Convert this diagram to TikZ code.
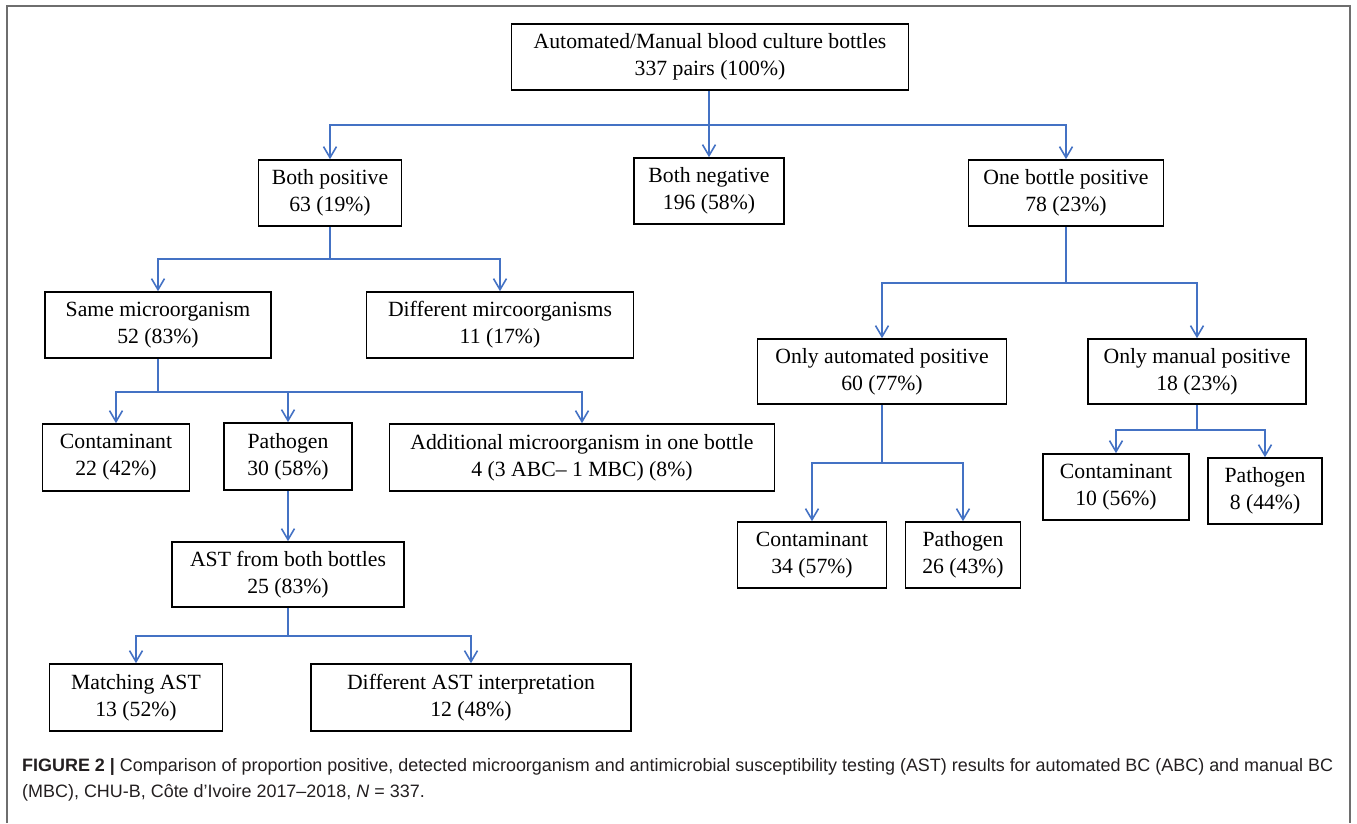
\documentclass[tikz,border=0pt]{standalone}
\usepackage{fontspec}
\setmainfont{Liberation Serif}
\newfontfamily\capfont{Liberation Sans}
\usetikzlibrary{arrows.meta}
\definecolor{linkblue}{RGB}{68,114,196}
\definecolor{framegray}{RGB}{110,110,110}
\definecolor{captext}{RGB}{35,31,32}
\begin{document}
\begin{tikzpicture}[x=1pt,y=-1pt,
  box/.style={draw=black, line width=1.6pt, inner sep=0pt, align=center,
    font=\fontsize{21.7}{27}\selectfont, minimum height=66pt},
  link/.style={draw=linkblue, line width=1.6pt},
  arr/.style={link, -{Straight Barb[length=11pt,width=13pt]}},
]
\useasboundingbox (0,0) rectangle (1357,823);
\draw[framegray, line width=2pt] (7,823) -- (7,6) -- (1350,6) -- (1350,823);

% nodes
\node[box, minimum width=397pt] (top) at (710,57) {Automated/Manual blood culture bottles\\337 pairs (100\%)};
\node[box, minimum width=143pt] (bpos) at (330,193) {Both positive\\63 (19\%)};
\node[box, minimum width=150pt] (bneg) at (709,191) {Both negative\\196 (58\%)};
\node[box, minimum width=195pt] (onepos) at (1066,193) {One bottle positive\\78 (23\%)};

\node[box, minimum width=226pt] (same) at (158,325) {Same microorganism\\52 (83\%)};
\node[box, minimum width=267pt] (diff) at (500,325) {Different mircoorganisms\\11 (17\%)};

\node[box, minimum width=147pt, minimum height=67pt] (cont22) at (116,457.5) {Contaminant\\22 (42\%)};
\node[box, minimum width=128pt, minimum height=67pt] (path30) at (288,456.5) {Pathogen\\30 (58\%)};
\node[box, minimum width=385pt, minimum height=67pt] (addl) at (582,457.5) {Additional microorganism in one bottle\\4 (3 ABC– 1 MBC) (8\%)};

\node[box, minimum width=232pt, minimum height=65pt] (ast) at (288,574.5) {AST from both bottles\\25 (83\%)};
\node[box, minimum width=173pt, minimum height=67pt] (match) at (136,697.5) {Matching AST\\13 (52\%)};
\node[box, minimum width=320pt, minimum height=67pt] (diffast) at (471,697.5) {Different AST interpretation\\12 (48\%)};

\node[box, minimum width=249pt, minimum height=65pt] (onlyauto) at (882,371.5) {Only automated positive\\60 (77\%)};
\node[box, minimum width=218pt, minimum height=65pt] (onlyman) at (1197,371.5) {Only manual positive\\18 (23\%)};

\node[box, minimum width=149pt] (cont34) at (812,555) {Contaminant\\34 (57\%)};
\node[box, minimum width=115pt] (path26) at (963,555) {Pathogen\\26 (43\%)};
\node[box, minimum width=146pt] (cont10) at (1116,487) {Contaminant\\10 (56\%)};
\node[box, minimum width=114pt] (path8) at (1265,491) {Pathogen\\8 (44\%)};

% junctions
\coordinate (j0) at (709,125);
\coordinate (j1) at (330,259);
\coordinate (j2) at (158,392);
\coordinate (j3) at (288,636);
\coordinate (j4) at (1066,283);
\coordinate (j5) at (882,463);
\coordinate (j6) at (1197,430);

% connectors
\draw[link] (j0 |- top.south) -- (j0);
\draw[arr] (j0) -| (bpos.north);
\draw[arr] (j0) -- (bneg.north);
\draw[arr] (j0) -| (onepos.north);

\draw[link] (bpos.south) -- (j1);
\draw[arr] (j1) -| (same.north);
\draw[arr] (j1) -| (diff.north);

\draw[link] (same.south) -- (j2);
\draw[arr] (j2) -| (cont22.north);
\draw[arr] (j2) -| (path30.north);
\draw[arr] (j2) -| (addl.north);

\draw[arr] (path30.south) -- (ast.north);
\draw[link] (ast.south) -- (j3);
\draw[arr] (j3) -| (match.north);
\draw[arr] (j3) -| (diffast.north);

\draw[link] (onepos.south) -- (j4);
\draw[arr] (j4) -| (onlyauto.north);
\draw[arr] (j4) -| (onlyman.north);

\draw[link] (onlyauto.south) -- (j5);
\draw[arr] (j5) -| (cont34.north);
\draw[arr] (j5) -| (path26.north);

\draw[link] (onlyman.south) -- (j6);
\draw[arr] (j6) -| (cont10.north);
\draw[arr] (j6) -| (path8.north);

% caption
\node[anchor=west, align=left, inner sep=0pt, text=captext,
  font=\capfont\fontsize{17.95}{26}\selectfont] (cap) at (22,780)
  {\textbf{FIGURE 2 |} Comparison of proportion positive, detected microorganism and antimicrobial susceptibility testing (AST) results for automated BC (ABC) and manual BC\\
   (MBC), CHU-B, Côte d’Ivoire 2017–2018, \textit{N} = 337.};
\end{tikzpicture}
\end{document}
